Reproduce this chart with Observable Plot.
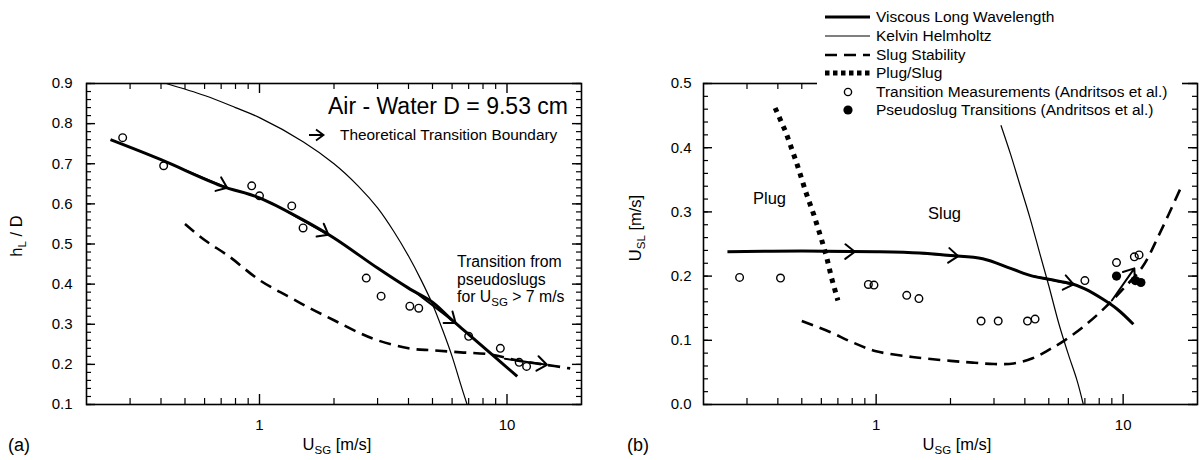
<!DOCTYPE html>
<html>
<head>
<meta charset="utf-8">
<script src="https://cdn.jsdelivr.net/npm/d3@7"></script>
<script src="https://cdn.jsdelivr.net/npm/@observablehq/plot@0.6"></script>
<style>
  body { margin: 0; background: #fff; }
  #fig { position: relative; width: 1202px; height: 460px; font-family: "Liberation Sans", Arial, Helvetica, sans-serif; color: #000; }
  #fig > svg { position: absolute; top: 0; }
</style>
</head>
<body>
<div id="fig"></div>
<script>
// ---------- shared axis ticks ----------
const xMajorTicks = [1, 10];
const xMinorTicks = [0.3, 0.4, 0.5, 0.6, 0.7, 0.8, 0.9, 2, 3, 4, 5, 6, 7, 8, 9];

// ---------- panel (a): liquid holdup h_L/D vs U_SG ----------
const aYMajor = [0.1, 0.2, 0.3, 0.4, 0.5, 0.6, 0.7, 0.8, 0.9];
const aVlwX  = [0.25, 0.4, 0.7, 1.0, 1.5, 2.0, 3.0, 4.0, 5.0, 6.0, 7.0, 8.5, 11.0];
const aVlwY  = [0.76, 0.71, 0.645, 0.615, 0.56, 0.515, 0.44, 0.39, 0.355, 0.31, 0.275, 0.23, 0.17];
const aKhX   = [0.42, 0.6, 0.8, 1.0, 1.5, 2.0, 2.5, 3.0, 3.5, 4.0, 4.5, 5.0, 5.5, 6.0, 6.5, 6.9];
const aKhY   = [0.9, 0.87, 0.84, 0.815, 0.755, 0.70, 0.645, 0.59, 0.53, 0.47, 0.41, 0.35, 0.285, 0.22, 0.15, 0.1];
const aSlugX = [0.5, 0.6, 0.75, 1.0, 1.3, 1.6, 2.0, 2.5, 3.0, 4.0, 5.0, 6.5, 8.5, 11, 14, 18];
const aSlugY = [0.55, 0.51, 0.47, 0.41, 0.37, 0.34, 0.31, 0.28, 0.26, 0.24, 0.235, 0.23, 0.225, 0.21, 0.2, 0.19];
const aMeasX = [0.28, 0.41, 0.93, 1.0, 1.35, 1.5, 2.7, 3.1, 4.05, 4.4, 7.0, 9.4, 11.2, 12.0];
const aMeasY = [0.765, 0.695, 0.645, 0.62, 0.595, 0.54, 0.415, 0.37, 0.345, 0.34, 0.27, 0.24, 0.205, 0.195];
// direction arrows along the boundaries (tail -> head)
const aArrX1 = [0.5, 1.3, 4.3, 9.8];
const aArrY1 = [0.684, 0.58, 0.378, 0.214];
const aArrX2 = [0.74, 1.9, 6.2, 14.5];
const aArrY2 = [0.64, 0.523, 0.303, 0.199];

// ---------- panel (b): flow-pattern map U_SL vs U_SG ----------
const bYMajor = [0.0, 0.1, 0.2, 0.3, 0.4, 0.5];
const bVlwX  = [0.25, 0.5, 1.0, 1.5, 2.0, 2.7, 3.5, 4.3, 5.0, 6.2, 7.0, 8.2, 9.5, 11.0];
const bVlwY  = [0.238, 0.239, 0.238, 0.236, 0.232, 0.227, 0.212, 0.2, 0.195, 0.188, 0.18, 0.165, 0.148, 0.125];
const bKhX   = [3.2, 3.5, 3.8, 4.2, 4.6, 5.0, 5.5, 6.0, 6.5, 6.9];
const bKhY   = [0.435, 0.39, 0.345, 0.29, 0.235, 0.185, 0.125, 0.078, 0.038, 0.0];
const bSlugX = [0.5, 0.65, 0.8, 1.0, 1.4, 2.0, 2.5, 3.0, 3.6, 4.3, 5.0, 5.8, 7.0, 8.5, 10.0, 12.0, 14.0, 17.0];
const bSlugY = [0.13, 0.113, 0.097, 0.083, 0.074, 0.068, 0.065, 0.063, 0.064, 0.072, 0.085, 0.1, 0.123, 0.152, 0.18, 0.215, 0.265, 0.335];
const bPlugX = [0.39, 0.43, 0.475, 0.52, 0.56, 0.6, 0.63, 0.66, 0.7];
const bPlugY = [0.462, 0.425, 0.378, 0.33, 0.295, 0.258, 0.23, 0.197, 0.162];
const bMeasX = [0.28, 0.41, 0.93, 0.98, 1.33, 1.49, 2.66, 3.12, 4.1, 4.4, 7.0, 9.4, 11.1, 11.6];
const bMeasY = [0.198, 0.197, 0.187, 0.186, 0.17, 0.165, 0.13, 0.13, 0.13, 0.133, 0.193, 0.221, 0.23, 0.233];
const bPseudoX = [9.4, 11.2, 11.8];
const bPseudoY = [0.2, 0.193, 0.19];
const bArrX1 = [0.55, 1.5, 4.3, 9.0];
const bArrY1 = [0.239, 0.236, 0.2, 0.162];
const bArrX2 = [0.82, 2.15, 6.3, 11.1];
const bArrY2 = [0.238, 0.231, 0.187, 0.212];

const pts = (xs, ys) => xs.map((x, i) => ({x, y: ys[i]}));
const arrows = (x1, y1, x2, y2) => x1.map((_, i) => ({x1: x1[i], y1: y1[i], x2: x2[i], y2: y2[i]}));

function panel(o) {
  const H = 460, mT = 83, mB = 56;
  const iw = o.width - o.marginLeft - o.marginRight;
  const ih = H - mT - mB;
  const [y0, y1] = o.yDomain;
  const yMinor = d3.range(Math.round((y1 - y0) / 0.02) + 1).map(i => +(y0 + i * 0.02).toFixed(2));
  const k = "black";
  return Plot.plot({
    width: o.width, height: H,
    marginLeft: o.marginLeft, marginRight: o.marginRight, marginTop: mT, marginBottom: mB,
    style: "font-family: 'Liberation Sans', Arial, Helvetica, sans-serif; font-size: 15px; background: transparent; overflow: visible;",
    x: {type: "log", domain: [0.2, 20], axis: null},
    y: {domain: o.yDomain, axis: null},
    marks: [
      // inward ticks on all four sides
      Plot.tickY(yMinor, {y: d => d, insetRight: iw - 5, stroke: k, strokeWidth: 1.2}),
      Plot.tickY(o.yMajor, {y: d => d, insetRight: iw - 9, stroke: k, strokeWidth: 1.4}),
      Plot.tickY(yMinor, {y: d => d, insetLeft: iw - 5, stroke: k, strokeWidth: 1.2}),
      Plot.tickY(o.yMajor, {y: d => d, insetLeft: iw - 9, stroke: k, strokeWidth: 1.4}),
      Plot.tickX(xMinorTicks, {x: d => d, insetBottom: ih - 6, stroke: k, strokeWidth: 1.2}),
      Plot.tickX(xMajorTicks, {x: d => d, insetBottom: ih - 10, stroke: k, strokeWidth: 1.4}),
      Plot.tickX(xMinorTicks, {x: d => d, insetTop: ih - 6, stroke: k, strokeWidth: 1.2}),
      Plot.tickX(xMajorTicks, {x: d => d, insetTop: ih - 10, stroke: k, strokeWidth: 1.4}),
      Plot.frame({stroke: k, strokeWidth: 1.6}),
      Plot.axisY(o.yMajor, {tickSize: 0, tickPadding: o.yPad, tickFormat: d3.format(".1f"), label: null, fontSize: 15}),
      Plot.axisX(xMajorTicks, {tickSize: 0, tickPadding: 15, tickFormat: d => String(d), label: null, fontSize: 15}),
      // boundaries
      ...o.lines.map(s => Plot.line(s.data, {
        x: "x", y: "y", stroke: k, strokeWidth: s.w,
        strokeDasharray: s.dash, strokeLinecap: "butt", strokeLinejoin: "round",
        curve: s.curve || "catmull-rom"
      })),
      Plot.arrow(o.arrows, {x1: "x1", y1: "y1", x2: "x2", y2: "y2", stroke: k, strokeWidth: 2, headLength: 9, headAngle: 75}),
      // measurements
      Plot.dot(o.meas, {x: "x", y: "y", r: 3.8, stroke: k, strokeWidth: 1.4, fill: "none"}),
      ...(o.pseudo ? [Plot.dot(o.pseudo, {x: "x", y: "y", r: 4.6, fill: k, stroke: "none"})] : [])
    ]
  });
}

const fig = document.getElementById("fig");

const plotA = panel({
  width: 600, marginLeft: 86, marginRight: 19, yDomain: [0.1, 0.9], yMajor: aYMajor, yPad: 14,
  lines: [
    {data: pts(aKhX, aKhY), w: 1.2},
    {data: pts(aSlugX, aSlugY), w: 2.6, dash: "12,7"},
    {data: pts(aVlwX, aVlwY), w: 3}
  ],
  arrows: arrows(aArrX1, aArrY1, aArrX2, aArrY2),
  meas: pts(aMeasX, aMeasY)
});
plotA.style.left = "0px";
fig.appendChild(plotA);

const plotB = panel({
  width: 602, marginLeft: 103, marginRight: 5, yDomain: [0.0, 0.5], yMajor: bYMajor, yPad: 12,
  lines: [
    {data: pts(bKhX, bKhY), w: 1.2},
    {data: pts(bSlugX, bSlugY), w: 2.6, dash: "12,7"},
    {data: pts(bPlugX, bPlugY), w: 5, dash: "4.5,5.5", curve: "linear"},
    {data: pts(bVlwX, bVlwY), w: 3}
  ],
  arrows: arrows(bArrX1, bArrY1, bArrX2, bArrY2),
  meas: pts(bMeasX, bMeasY),
  pseudo: pts(bPseudoX, bPseudoY)
});
plotB.style.left = "600px";
fig.appendChild(plotB);

// ---------- titles, annotations and legend ----------
const legendItems = [
  {label: "Viscous Long Wavelength", kind: "line", w: 3},
  {label: "Kelvin Helmholtz", kind: "line", w: 1},
  {label: "Slug Stability", kind: "line", w: 2.6, dash: "12,7"},
  {label: "Plug/Slug", kind: "line", w: 5, dash: "4.5,3.5"},
  {label: "Transition Measurements (Andritsos et al.)", kind: "open"},
  {label: "Pseudoslug Transitions (Andritsos et al.)", kind: "filled"}
];
const legendRows = [17, 36, 55, 73, 92, 110];

const sub = (s) => `<tspan dy="4" font-size="11.5">${s}</tspan><tspan dy="-4">`;
let svg = `<svg xmlns="http://www.w3.org/2000/svg" width="1202" height="460" style="left:0;font-family:'Liberation Sans',Arial,Helvetica,sans-serif;fill:#000">
  <text transform="translate(22,236) rotate(-90)" text-anchor="middle" font-size="16.5">h${sub("L")} / D</tspan></text>
  <text x="337" y="450" text-anchor="middle" font-size="16.5">U${sub("SG")} [m/s]</tspan></text>
  <text x="8" y="451" font-size="18">(a)</text>
  <text x="568" y="114" text-anchor="end" font-size="23">Air - Water D = 9.53 cm</text>
  <path d="M309,135 H323 M316,129.5 L323.5,135 L316,140.5" stroke="#000" stroke-width="1.8" fill="none"/>
  <text x="340" y="140" font-size="15.4">Theoretical Transition Boundary</text>
  <text x="457" y="267" font-size="15.8">Transition from</text>
  <text x="457" y="285" font-size="15.8">pseudoslugs</text>
  <text x="457" y="302" font-size="15.8">for U${sub("SG")} &gt; 7 m/s</tspan></text>
  <text transform="translate(641,228) rotate(-90)" text-anchor="middle" font-size="16.5">U${sub("SL")} [m/s]</tspan></text>
  <text x="957" y="450" text-anchor="middle" font-size="16.5">U${sub("SG")} [m/s]</tspan></text>
  <text x="627" y="451" font-size="18">(b)</text>
  <text x="753" y="204" font-size="16.5">Plug</text>
  <text x="928" y="219" font-size="16.5">Slug</text>
  <rect x="817" y="0" width="365" height="121" fill="#fff"/>`;
legendItems.forEach((it, i) => {
  const y = legendRows[i];
  if (it.kind === "line") {
    svg += `<line x1="825" x2="870" y1="${y}" y2="${y}" stroke="#000" stroke-width="${it.w}"${it.dash ? ` stroke-dasharray="${it.dash}"` : ""}/>`;
  } else if (it.kind === "open") {
    svg += `<circle cx="848" cy="${y}" r="3.6" fill="none" stroke="#000" stroke-width="1.4"/>`;
  } else {
    svg += `<circle cx="848" cy="${y}" r="4.6" fill="#000"/>`;
  }
  svg += `<text x="876" y="${y + 5}" font-size="15.5">${it.label}</text>`;
});
svg += `</svg>`;
fig.insertAdjacentHTML("beforeend", svg);
</script>
</body>
</html>
